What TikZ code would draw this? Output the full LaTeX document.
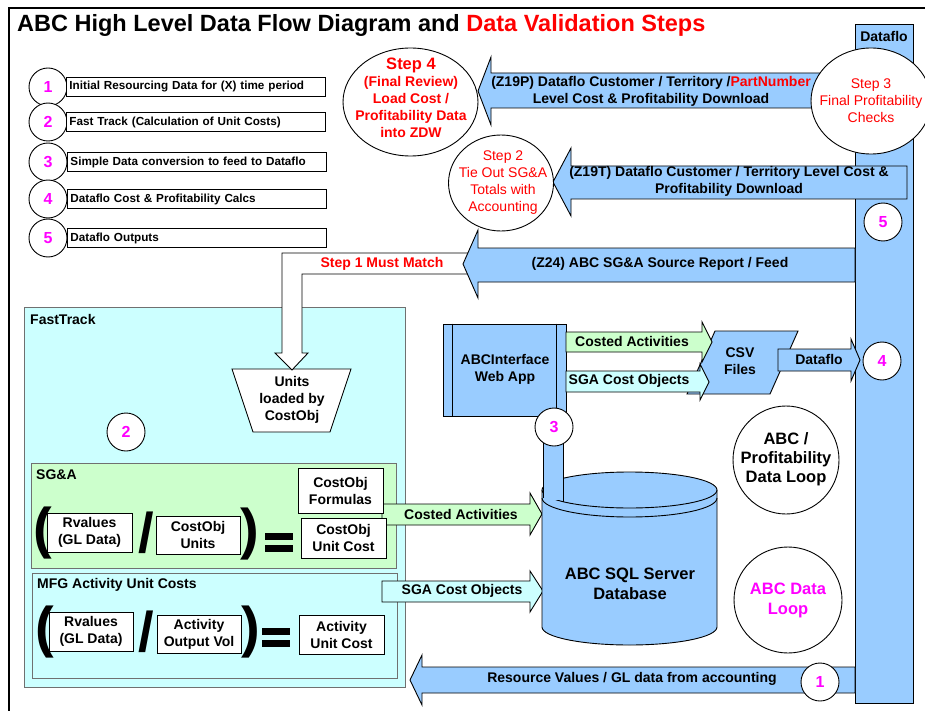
\documentclass[tikz,border=0pt]{standalone}
\usepackage{fontspec}
\setmainfont{Liberation Sans}
\usetikzlibrary{shapes.geometric}
\definecolor{bblue}{HTML}{99CCFF}
\definecolor{lgreen}{HTML}{CCFFCC}
\definecolor{lcyan}{HTML}{CCFFFF}
\definecolor{mag}{HTML}{FF00FF}
\definecolor{redT}{HTML}{FF0000}
\definecolor{panelgray}{HTML}{707070}
\begin{document}
\begin{tikzpicture}[x=1pt,y=-1pt,
  every node/.style={inner sep=0pt},
  ln/.style={line width=0.9pt},
  blockarrow/.style={draw=black, line width=0.9pt, line join=miter},
  tb/.style={font=\bfseries\fontsize{14}{17}\selectfont, align=center},
  tr/.style={font=\fontsize{14}{17}\selectfont, align=center, text=redT},
  legbox/.style={draw, line width=0.9pt, fill=white, minimum height=19pt, text width=253pt, inner xsep=3pt, align=left, anchor=west, font=\bfseries\fontsize{11.7}{13}\selectfont},
  numc/.style={circle, draw, line width=0.9pt, fill=white, minimum size=38pt, text=mag, font=\bfseries\fontsize{16}{16}\selectfont},
  wbox/.style={draw, line width=0.9pt, fill=white, tb},
  bigsym/.style={font=\bfseries\fontsize{56}{56}\selectfont},
  loopc/.style={ellipse, draw, line width=0.9pt, fill=white},
  panel/.style={draw=panelgray, line width=0.9pt}
]
\useasboundingbox (0,0) rectangle (925,711);
\fill[white] (0,0) rectangle (925,711);

% outer frame
\draw[line width=2pt] (9,711) -- (9,8) -- (925,8);

% title
\node[anchor=base west, font=\bfseries\fontsize{23.5}{28}\selectfont] (title) at (17,32)
  {ABC High Level Data Flow Diagram and \textcolor{redT}{Data Validation Steps}};

% legend
\foreach \i/\y/\x/\t in {1/87/66/Initial Resourcing Data for (X) time period,
                         2/122/66/Fast Track (Calculation of Unit Costs),
                         3/162/67/Simple Data conversion to feed to Dataflo,
                         4/199/67/Dataflo Cost \& Profitability Calcs,
                         5/238/67/Dataflo Outputs}{
  \node[numc] (lc\i) at (48,\y) {\i};
  \node[legbox] (lb\i) at (\x,\y) {\t};
}

% FastTrack panel
\node[panel, fill=lcyan, minimum width=381pt, minimum height=380pt] (ft) at (214.5,497) {};
\node[tb, anchor=west] (fttxt) at (30,319) {FastTrack};
\node[panel, fill=lgreen, minimum width=365pt, minimum height=105pt] (sga) at (213.5,515.5) {};
\node[tb, anchor=west] (sgatxt) at (36,475) {SG\&A};
\node[panel, fill=lcyan, minimum width=365pt, minimum height=105pt] (mfg) at (214.5,625.5) {};
\node[tb, anchor=west] (mfgtxt) at (37,585) {MFG Activity Unit Costs};
\node[numc] (n2) at (126,432) {2};

% arrows into database
\draw[blockarrow, fill=lgreen] (382,504) -- (530,504) -- (530,493) -- (542,514) -- (530,535) -- (530,525) -- (382,525) -- cycle;
\node[tb] (ca1) at (461,514) {Costed Activities};
\draw[blockarrow, fill=lcyan] (382,581) -- (530,581) -- (530,571) -- (543,591) -- (530,612) -- (530,602) -- (382,602) -- cycle;
\node[tb] (sg1) at (462,591) {SGA Cost Objects};

% SG&A formula
\node[wbox, minimum width=85pt, minimum height=39pt] (rv1) at (89.5,532.5) {Rvalues\\(GL Data)};
\node[wbox, minimum width=84pt, minimum height=38pt] (cu) at (198,535) {CostObj\\Units};
\node[wbox, minimum width=85pt, minimum height=45pt] (cf) at (340.5,490.5) {CostObj\\Formulas};
\node[wbox, minimum width=85pt, minimum height=40pt] (cuc) at (343.5,538) {CostObj\\Unit Cost};
\node[bigsym] (lp1) at (43,533) {(};
\node[bigsym] (sl1) at (146,533) {/};
\node[bigsym] (rp1) at (250,534) {)};
\fill (265,533) rectangle (293,540);
\fill (265,545) rectangle (293,552);

% MFG formula
\node[wbox, minimum width=84pt, minimum height=39pt] (rv2) at (91,631.5) {Rvalues\\(GL Data)};
\node[wbox, minimum width=84pt, minimum height=38pt] (aov) at (199,634) {Activity\\Output Vol};
\node[wbox, minimum width=85pt, minimum height=39pt] (auc) at (341.5,634.5) {Activity\\Unit Cost};
\node[bigsym] (lp2) at (45,632) {(};
\node[bigsym] (sl2) at (146,632) {/};
\node[bigsym] (rp2) at (251,632) {)};
\fill (262,628) rectangle (290,635);
\fill (262,640) rectangle (290,647);

% Dataflo bar
\node[draw, ln, fill=bblue, minimum width=58pt, minimum height=679pt] (bar) at (884,363.5) {};
\node[tb] (bartxt) at (884,36) {Dataflo};

% Z19P arrow
\draw[blockarrow, fill=bblue] (855,73) -- (491,73) -- (491,57) -- (478,91) -- (491,125) -- (491,108) -- (855,108) -- cycle;
\node[tb] (z19p) at (651,91) {(Z19P) Dataflo Customer / Territory /\textcolor{redT}{PartNumber}\\Level Cost \& Profitability Download};

% Z19T arrow
\draw[blockarrow, fill=bblue] (907,166) -- (571,166) -- (571,148) -- (553,182) -- (571,216) -- (571,199) -- (907,199) -- cycle;
\node[tb] (z19t) at (729,181.5) {(Z19T) Dataflo Customer / Territory Level Cost \&\\Profitability Download};

% Units trapezoid
\draw[ln, fill=white] (232,369) -- (351,369) -- (330,432) -- (253,432) -- cycle;
\node[tb] (units) at (292,400) {Units\\loaded by\\CostObj};

% White bent arrow (Step 1)
\draw[blockarrow, fill=white] (470,253) -- (282,253) -- (282,353) -- (275,353) -- (292,370) -- (308,353) -- (302,353) -- (302,274) -- (470,274) -- cycle;
\node[tb, text=redT] (s1) at (382,264) {Step 1 Must Match};

% Z24 arrow
\draw[blockarrow, fill=bblue] (855,248) -- (478,248) -- (478,230) -- (463,264) -- (478,298) -- (478,282) -- (855,282) -- cycle;
\node[tb] (z24) at (660,264) {(Z24) ABC SG\&A Source Report / Feed};

% Step ellipses
\node[loopc, minimum width=135pt, minimum height=108pt] (step4) at (410.5,102) {};
\node[tb, text=redT] (step4t) at (411,98) {{\fontsize{16.5}{17}\selectfont Step 4}\\(Final Review)\\Load Cost /\\Profitability Data\\into ZDW};
\node[loopc, minimum width=105pt, minimum height=96pt] (step2) at (501,183) {};
\node[tr] (step2t) at (503,183) {Step 2\\Tie Out SG\&A\\Totals with\\Accounting};
\node[loopc, minimum width=120pt, minimum height=106pt] (step3) at (871,101) {};
\node[tr] (step3t) at (871,101) {Step 3\\Final Profitability\\Checks};

\node[numc] (n5) at (883,222) {5};

% Database cylinder
\draw[ln, fill=bblue] (542,490) -- (542,627) arc[start angle=180, end angle=360, x radius=87.5pt, y radius=18pt]
   -- (717,490) arc[start angle=0, end angle=180, x radius=87.5pt, y radius=18pt] -- cycle;
\draw[ln] (542,490) arc[start angle=180, end angle=360, x radius=87.5pt, y radius=18pt];
\fill[bblue] (543,415) rectangle (563,500);
\draw[ln] (543,415) -- (543,498);
\draw[ln] (563,415) -- (563,502);
\draw[ln] (542,498) arc[start angle=180, end angle=360, x radius=87.5pt, y radius=19pt];
\node[font=\bfseries\fontsize{16.5}{20}\selectfont, align=center] (db) at (630,584) {ABC SQL Server\\Database};

% Web app
\node[draw, ln, fill=bblue, minimum width=123pt, minimum height=92pt] (web) at (504.5,370) {};
\draw[ln] ([xshift=10pt]web.north west) -- ([xshift=10pt]web.south west);
\draw[ln] ([xshift=-10pt]web.north east) -- ([xshift=-10pt]web.south east);
\node[tb] (webt) at (505,369.5) {ABCInterface\\Web App};
\node[numc] (n3) at (554,427) {3};

% CSV files
\draw[ln, fill=bblue] (715,331) -- (798,331) -- (770,394) -- (687,394) -- cycle;
\node[tb] (csv) at (740,361) {CSV\\Files};
\draw[blockarrow, fill=lgreen] (566,332) -- (702,332) -- (702,322) -- (712,342) -- (702,362) -- (702,352) -- (566,352) -- cycle;
\node[tb] (ca2) at (632,341) {Costed Activities};
\draw[blockarrow, fill=lcyan] (566,371) -- (700,371) -- (700,364) -- (709,382) -- (700,400) -- (700,392) -- (566,392) -- cycle;
\node[tb] (sg2) at (629,381) {SGA Cost Objects};

% Dataflo arrow
\draw[blockarrow, fill=bblue] (778,349) -- (851,349) -- (851,339) -- (860,360) -- (851,381) -- (851,371) -- (778,371) -- cycle;
\node[tb] (dfa) at (819,359) {Dataflo};
\node[numc] (n4) at (882,361) {4};

% loops
\node[loopc, minimum width=106pt, minimum height=108pt] (loop1) at (786,460) {};
\node[font=\bfseries\fontsize{16.5}{19}\selectfont, align=center] (loop1t) at (786,459) {ABC /\\Profitability\\Data Loop};
\node[loopc, minimum width=108pt, minimum height=106pt] (loop2) at (788,600) {};
\node[font=\bfseries\fontsize{16.5}{20}\selectfont, align=center, text=mag] (loop2t) at (788,600) {ABC Data\\Loop};

% bottom arrow
\draw[blockarrow, fill=bblue] (855,667) -- (422,667) -- (422,655) -- (410,680) -- (422,705) -- (422,693) -- (855,693) -- cycle;
\node[tb] (res) at (632,679) {Resource Values / GL data from accounting};
\node[numc] (n1) at (820,682) {1};
\end{tikzpicture}
\end{document}
